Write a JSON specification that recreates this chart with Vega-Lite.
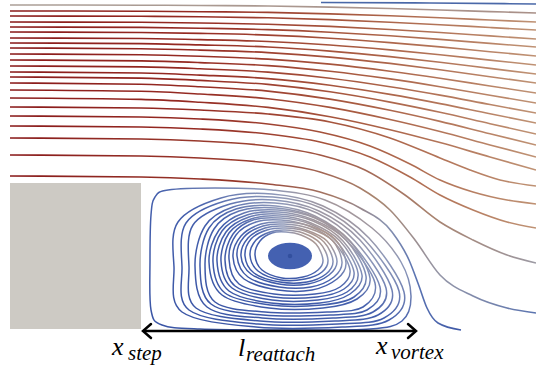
{
"$schema":"https://vega.github.io/schema/vega-lite/v6.json",
"width":536,"height":371,"padding":0,"autosize":"none",
"config":{"view":{"stroke":null}},
"datasets":{
"lines":[
{"g":"t","s":"u1","i":0,"x":10,"y":5},{"g":"t","s":"u1","i":1,"x":141,"y":5.2},{"g":"t","s":"u1","i":2,"x":200,"y":5.5},{"g":"t","s":"u1","i":3,"x":268,"y":6},{"g":"t","s":"u1","i":4,"x":330,"y":7.1},{"g":"t","s":"u1","i":5,"x":390,"y":8.5},{"g":"t","s":"u1","i":6,"x":440,"y":10},{"g":"t","s":"u1","i":7,"x":490,"y":11.6},{"g":"t","s":"u1","i":8,"x":536,"y":13},
{"g":"r","s":"u2","i":0,"x":10,"y":11},{"g":"r","s":"u2","i":1,"x":141,"y":11.2},{"g":"r","s":"u2","i":2,"x":200,"y":11.7},{"g":"r","s":"u2","i":3,"x":268,"y":12.4},{"g":"r","s":"u2","i":4,"x":330,"y":13.9},{"g":"r","s":"u2","i":5,"x":390,"y":15.8},{"g":"r","s":"u2","i":6,"x":440,"y":17.8},{"g":"r","s":"u2","i":7,"x":490,"y":20},{"g":"r","s":"u2","i":8,"x":536,"y":22},
{"g":"r","s":"u3","i":0,"x":10,"y":16},{"g":"r","s":"u3","i":1,"x":141,"y":16.3},{"g":"r","s":"u3","i":2,"x":200,"y":16.8},{"g":"r","s":"u3","i":3,"x":268,"y":17.8},{"g":"r","s":"u3","i":4,"x":330,"y":19.6},{"g":"r","s":"u3","i":5,"x":390,"y":22.2},{"g":"r","s":"u3","i":6,"x":440,"y":24.7},{"g":"r","s":"u3","i":7,"x":490,"y":27.5},{"g":"r","s":"u3","i":8,"x":536,"y":30},
{"g":"r","s":"u4","i":0,"x":10,"y":22},{"g":"r","s":"u4","i":1,"x":141,"y":22.3},{"g":"r","s":"u4","i":2,"x":200,"y":23},{"g":"r","s":"u4","i":3,"x":268,"y":24.2},{"g":"r","s":"u4","i":4,"x":330,"y":26.4},{"g":"r","s":"u4","i":5,"x":390,"y":29.5},{"g":"r","s":"u4","i":6,"x":440,"y":32.5},{"g":"r","s":"u4","i":7,"x":490,"y":35.9},{"g":"r","s":"u4","i":8,"x":536,"y":39},
{"g":"r","s":"u5","i":0,"x":10,"y":27},{"g":"r","s":"u5","i":1,"x":141,"y":27.4},{"g":"r","s":"u5","i":2,"x":200,"y":28.2},{"g":"r","s":"u5","i":3,"x":268,"y":29.6},{"g":"r","s":"u5","i":4,"x":330,"y":32.2},{"g":"r","s":"u5","i":5,"x":390,"y":35.8},{"g":"r","s":"u5","i":6,"x":440,"y":39.4},{"g":"r","s":"u5","i":7,"x":490,"y":43.4},{"g":"r","s":"u5","i":8,"x":536,"y":47},
{"g":"r","s":"u6","i":0,"x":10,"y":32},{"g":"r","s":"u6","i":1,"x":141,"y":32.5},{"g":"r","s":"u6","i":2,"x":200,"y":33.4},{"g":"r","s":"u6","i":3,"x":268,"y":35.1},{"g":"r","s":"u6","i":4,"x":330,"y":38.2},{"g":"r","s":"u6","i":5,"x":390,"y":42.6},{"g":"r","s":"u6","i":6,"x":440,"y":46.9},{"g":"r","s":"u6","i":7,"x":490,"y":51.7},{"g":"r","s":"u6","i":8,"x":536,"y":56},
{"g":"r","s":"u7","i":0,"x":10,"y":38},{"g":"r","s":"u7","i":1,"x":141,"y":38.5},{"g":"r","s":"u7","i":2,"x":200,"y":39.6},{"g":"r","s":"u7","i":3,"x":268,"y":41.5},{"g":"r","s":"u7","i":4,"x":330,"y":45},{"g":"r","s":"u7","i":5,"x":390,"y":49.9},{"g":"r","s":"u7","i":6,"x":440,"y":54.7},{"g":"r","s":"u7","i":7,"x":490,"y":60.1},{"g":"r","s":"u7","i":8,"x":536,"y":65},
{"g":"r","s":"u8","i":0,"x":10,"y":43},{"g":"r","s":"u8","i":1,"x":141,"y":43.6},{"g":"r","s":"u8","i":2,"x":200,"y":44.9},{"g":"r","s":"u8","i":3,"x":268,"y":47},{"g":"r","s":"u8","i":4,"x":330,"y":51.1},{"g":"r","s":"u8","i":5,"x":390,"y":56.6},{"g":"r","s":"u8","i":6,"x":440,"y":62.2},{"g":"r","s":"u8","i":7,"x":490,"y":68.4},{"g":"r","s":"u8","i":8,"x":536,"y":74},
{"g":"r","s":"u9","i":0,"x":10,"y":48},{"g":"r","s":"u9","i":1,"x":141,"y":48.7},{"g":"r","s":"u9","i":2,"x":200,"y":50.1},{"g":"r","s":"u9","i":3,"x":268,"y":52.6},{"g":"r","s":"u9","i":4,"x":330,"y":57.1},{"g":"r","s":"u9","i":5,"x":390,"y":63.4},{"g":"r","s":"u9","i":6,"x":440,"y":69.7},{"g":"r","s":"u9","i":7,"x":490,"y":76.7},{"g":"r","s":"u9","i":8,"x":536,"y":83},
{"g":"r","s":"u10","i":0,"x":10,"y":54},{"g":"r","s":"u10","i":1,"x":141,"y":54.8},{"g":"r","s":"u10","i":2,"x":200,"y":56.3},{"g":"r","s":"u10","i":3,"x":268,"y":59.1},{"g":"r","s":"u10","i":4,"x":330,"y":64.1},{"g":"r","s":"u10","i":5,"x":390,"y":71.2},{"g":"r","s":"u10","i":6,"x":440,"y":78.2},{"g":"r","s":"u10","i":7,"x":490,"y":86},{"g":"r","s":"u10","i":8,"x":536,"y":93},
{"g":"r","s":"u11","i":0,"x":10,"y":60},{"g":"r","s":"u11","i":1,"x":141,"y":60.9},{"g":"r","s":"u11","i":2,"x":200,"y":62.6},{"g":"r","s":"u11","i":3,"x":268,"y":65.6},{"g":"r","s":"u11","i":4,"x":330,"y":71.2},{"g":"r","s":"u11","i":5,"x":390,"y":78.9},{"g":"r","s":"u11","i":6,"x":440,"y":86.7},{"g":"r","s":"u11","i":7,"x":490,"y":95.3},{"g":"r","s":"u11","i":8,"x":536,"y":103},
{"g":"r","s":"u12","i":0,"x":10,"y":66},{"g":"r","s":"u12","i":1,"x":141,"y":66.9},{"g":"r","s":"u12","i":2,"x":200,"y":68.8},{"g":"r","s":"u12","i":3,"x":268,"y":72.1},{"g":"r","s":"u12","i":4,"x":330,"y":78.2},{"g":"r","s":"u12","i":5,"x":390,"y":86.7},{"g":"r","s":"u12","i":6,"x":440,"y":95.1},{"g":"r","s":"u12","i":7,"x":490,"y":104.5},{"g":"r","s":"u12","i":8,"x":536,"y":113},
{"g":"r","s":"u13","i":0,"x":10,"y":72},{"g":"r","s":"u13","i":1,"x":141,"y":73},{"g":"r","s":"u13","i":2,"x":200,"y":75.1},{"g":"r","s":"u13","i":3,"x":268,"y":78.6},{"g":"r","s":"u13","i":4,"x":330,"y":85.3},{"g":"r","s":"u13","i":5,"x":390,"y":94.4},{"g":"r","s":"u13","i":6,"x":440,"y":103.6},{"g":"r","s":"u13","i":7,"x":490,"y":113.8},{"g":"r","s":"u13","i":8,"x":536,"y":123},
{"g":"r","s":"u14","i":0,"x":10,"y":77},{"g":"r","s":"u14","i":1,"x":141,"y":78.1},{"g":"r","s":"u14","i":2,"x":200,"y":80.4},{"g":"r","s":"u14","i":3,"x":268,"y":84.4},{"g":"r","s":"u14","i":4,"x":330,"y":91.8},{"g":"r","s":"u14","i":5,"x":390,"y":102.1},{"g":"r","s":"u14","i":6,"x":440,"y":112.3},{"g":"r","s":"u14","i":7,"x":490,"y":123.7},{"g":"r","s":"u14","i":8,"x":536,"y":134},
{"g":"r","s":"u15","i":0,"x":10,"y":83},{"g":"r","s":"u15","i":1,"x":141,"y":84.2},{"g":"r","s":"u15","i":2,"x":200,"y":86.7},{"g":"r","s":"u15","i":3,"x":268,"y":91.1},{"g":"r","s":"u15","i":4,"x":330,"y":99.1},{"g":"r","s":"u15","i":5,"x":390,"y":110.3},{"g":"r","s":"u15","i":6,"x":440,"y":121.4},{"g":"r","s":"u15","i":7,"x":490,"y":133.8},{"g":"r","s":"u15","i":8,"x":536,"y":145},
{"g":"r","s":"u16","i":0,"x":10,"y":90},{"g":"r","s":"u16","i":1,"x":141,"y":91.3},{"g":"r","s":"u16","i":2,"x":200,"y":94},{"g":"r","s":"u16","i":3,"x":268,"y":98.7},{"g":"r","s":"u16","i":4,"x":330,"y":107.4},{"g":"r","s":"u16","i":5,"x":390,"y":119.5},{"g":"r","s":"u16","i":6,"x":440,"y":131.5},{"g":"r","s":"u16","i":7,"x":490,"y":144.9},{"g":"r","s":"u16","i":8,"x":536,"y":157},
{"g":"r","s":"u17","i":0,"x":10,"y":98},{"g":"r","s":"u17","i":1,"x":141,"y":99.4},{"g":"r","s":"u17","i":2,"x":200,"y":102.3},{"g":"r","s":"u17","i":3,"x":268,"y":107.4},{"g":"r","s":"u17","i":4,"x":330,"y":116.7},{"g":"r","s":"u17","i":5,"x":390,"y":129.7},{"g":"r","s":"u17","i":6,"x":440,"y":142.6},{"g":"r","s":"u17","i":7,"x":490,"y":157},{"g":"r","s":"u17","i":8,"x":536,"y":170},
{"g":"r","s":"l107","i":0,"x":10,"y":107},{"g":"r","s":"l107","i":1,"x":141,"y":108},{"g":"r","s":"l107","i":2,"x":200,"y":110},{"g":"r","s":"l107","i":3,"x":268,"y":114},{"g":"r","s":"l107","i":4,"x":330,"y":122},{"g":"r","s":"l107","i":5,"x":390,"y":138},{"g":"r","s":"l107","i":6,"x":440,"y":158},{"g":"r","s":"l107","i":7,"x":470,"y":170},{"g":"r","s":"l107","i":8,"x":500,"y":180},{"g":"r","s":"l107","i":9,"x":536,"y":186},
{"g":"r","s":"l116","i":0,"x":10,"y":116},{"g":"r","s":"l116","i":1,"x":141,"y":117},{"g":"r","s":"l116","i":2,"x":200,"y":119},{"g":"r","s":"l116","i":3,"x":268,"y":124},{"g":"r","s":"l116","i":4,"x":320,"y":132},{"g":"r","s":"l116","i":5,"x":370,"y":146},{"g":"r","s":"l116","i":6,"x":410,"y":164},{"g":"r","s":"l116","i":7,"x":440,"y":180},{"g":"r","s":"l116","i":8,"x":473,"y":192},{"g":"r","s":"l116","i":9,"x":507,"y":200},{"g":"r","s":"l116","i":10,"x":536,"y":204},
{"g":"r","s":"l126","i":0,"x":10,"y":126},{"g":"r","s":"l126","i":1,"x":141,"y":127},{"g":"r","s":"l126","i":2,"x":200,"y":129},{"g":"r","s":"l126","i":3,"x":268,"y":134},{"g":"r","s":"l126","i":4,"x":320,"y":142},{"g":"r","s":"l126","i":5,"x":370,"y":157},{"g":"r","s":"l126","i":6,"x":410,"y":177},{"g":"r","s":"l126","i":7,"x":440,"y":195},{"g":"r","s":"l126","i":8,"x":473,"y":210},{"g":"r","s":"l126","i":9,"x":507,"y":222},{"g":"r","s":"l126","i":10,"x":536,"y":228},
{"g":"g","s":"l138","i":0,"x":10,"y":138},{"g":"g","s":"l138","i":1,"x":141,"y":139},{"g":"g","s":"l138","i":2,"x":200,"y":141},{"g":"g","s":"l138","i":3,"x":268,"y":146},{"g":"g","s":"l138","i":4,"x":320,"y":155},{"g":"g","s":"l138","i":5,"x":365,"y":170},{"g":"g","s":"l138","i":6,"x":405,"y":195},{"g":"g","s":"l138","i":7,"x":440,"y":222},{"g":"g","s":"l138","i":8,"x":473,"y":240},{"g":"g","s":"l138","i":9,"x":507,"y":255},{"g":"g","s":"l138","i":10,"x":536,"y":263},
{"g":"g2","s":"l155","i":0,"x":10,"y":155},{"g":"g2","s":"l155","i":1,"x":141,"y":156},{"g":"g2","s":"l155","i":2,"x":200,"y":158},{"g":"g2","s":"l155","i":3,"x":268,"y":163},{"g":"g2","s":"l155","i":4,"x":320,"y":172},{"g":"g2","s":"l155","i":5,"x":360,"y":188},{"g":"g2","s":"l155","i":6,"x":390,"y":210},{"g":"g2","s":"l155","i":7,"x":415,"y":240},{"g":"g2","s":"l155","i":8,"x":440,"y":275},{"g":"g2","s":"l155","i":9,"x":473,"y":296},{"g":"g2","s":"l155","i":10,"x":507,"y":308},{"g":"g2","s":"l155","i":11,"x":536,"y":313},
{"g":"b","s":"l176","i":0,"x":10,"y":176},{"g":"b","s":"l176","i":1,"x":141,"y":177},{"g":"b","s":"l176","i":2,"x":200,"y":179},{"g":"b","s":"l176","i":3,"x":268,"y":184},{"g":"b","s":"l176","i":4,"x":320,"y":192},{"g":"b","s":"l176","i":5,"x":360,"y":208},{"g":"b","s":"l176","i":6,"x":392,"y":232},{"g":"b","s":"l176","i":7,"x":409,"y":260},{"g":"b","s":"l176","i":8,"x":419,"y":286},{"g":"b","s":"l176","i":9,"x":427,"y":308},{"g":"b","s":"l176","i":10,"x":438,"y":323},{"g":"b","s":"l176","i":11,"x":461,"y":330},
{"g":"tb","s":"tb","i":0,"x":321,"y":2.5},{"g":"tb","s":"tb","i":1,"x":430,"y":3},{"g":"tb","s":"tb","i":2,"x":536,"y":4}
],
"loops":[
{"s":"L0","i":0,"x":150,"y":260},{"s":"L0","i":1,"x":151,"y":215},{"s":"L0","i":2,"x":155,"y":197},{"s":"L0","i":3,"x":168,"y":190},{"s":"L0","i":4,"x":215,"y":188},{"s":"L0","i":5,"x":272,"y":190},{"s":"L0","i":6,"x":325,"y":200},{"s":"L0","i":7,"x":372,"y":228},{"s":"L0","i":8,"x":401,"y":262},{"s":"L0","i":9,"x":411,"y":296},{"s":"L0","i":10,"x":402,"y":321},{"s":"L0","i":11,"x":370,"y":329},{"s":"L0","i":12,"x":290,"y":330},{"s":"L0","i":13,"x":200,"y":329},{"s":"L0","i":14,"x":162,"y":325},{"s":"L0","i":15,"x":151,"y":310},
{"s":"L1","i":0,"x":174,"y":267},{"s":"L1","i":1,"x":178,"y":222},{"s":"L1","i":2,"x":221,"y":198},{"s":"L1","i":3,"x":272,"y":194},{"s":"L1","i":4,"x":323,"y":206},{"s":"L1","i":5,"x":369,"y":238},{"s":"L1","i":6,"x":404,"y":292},{"s":"L1","i":7,"x":389,"y":320},{"s":"L1","i":8,"x":342,"y":327},{"s":"L1","i":9,"x":256,"y":327},{"s":"L1","i":10,"x":182,"y":312},
{"s":"L2","i":0,"x":182,"y":267},{"s":"L2","i":1,"x":186,"y":223},{"s":"L2","i":2,"x":225,"y":201},{"s":"L2","i":3,"x":273,"y":197},{"s":"L2","i":4,"x":321,"y":208},{"s":"L2","i":5,"x":364,"y":239},{"s":"L2","i":6,"x":399,"y":291},{"s":"L2","i":7,"x":384,"y":318},{"s":"L2","i":8,"x":338,"y":324},{"s":"L2","i":9,"x":258,"y":324},{"s":"L2","i":10,"x":189,"y":310},
{"s":"L3","i":0,"x":189,"y":267},{"s":"L3","i":1,"x":193,"y":225},{"s":"L3","i":2,"x":230,"y":204},{"s":"L3","i":3,"x":274,"y":200},{"s":"L3","i":4,"x":319,"y":211},{"s":"L3","i":5,"x":360,"y":240},{"s":"L3","i":6,"x":392,"y":290},{"s":"L3","i":7,"x":378,"y":315},{"s":"L3","i":8,"x":335,"y":321},{"s":"L3","i":9,"x":260,"y":321},{"s":"L3","i":10,"x":196,"y":308},
{"s":"L4","i":0,"x":195,"y":266},{"s":"L4","i":1,"x":205,"y":226},{"s":"L4","i":2,"x":233,"y":207},{"s":"L4","i":3,"x":275,"y":203},{"s":"L4","i":4,"x":317,"y":213},{"s":"L4","i":5,"x":355,"y":241},{"s":"L4","i":6,"x":386,"y":288},{"s":"L4","i":7,"x":373,"y":312},{"s":"L4","i":8,"x":333,"y":318},{"s":"L4","i":9,"x":262,"y":318},{"s":"L4","i":10,"x":207,"y":307},
{"s":"L5","i":0,"x":200,"y":266},{"s":"L5","i":1,"x":209,"y":228},{"s":"L5","i":2,"x":236,"y":209},{"s":"L5","i":3,"x":276,"y":206},{"s":"L5","i":4,"x":315,"y":216},{"s":"L5","i":5,"x":351,"y":242},{"s":"L5","i":6,"x":380,"y":287},{"s":"L5","i":7,"x":367,"y":310},{"s":"L5","i":8,"x":330,"y":315},{"s":"L5","i":9,"x":263,"y":315},{"s":"L5","i":10,"x":211,"y":304},
{"s":"L6","i":0,"x":205,"y":265},{"s":"L6","i":1,"x":214,"y":229},{"s":"L6","i":2,"x":239,"y":211},{"s":"L6","i":3,"x":276,"y":208},{"s":"L6","i":4,"x":314,"y":217},{"s":"L6","i":5,"x":348,"y":242},{"s":"L6","i":6,"x":375,"y":283},{"s":"L6","i":7,"x":363,"y":307},{"s":"L6","i":8,"x":327,"y":312},{"s":"L6","i":9,"x":265,"y":312},{"s":"L6","i":10,"x":215,"y":302},
{"s":"L7","i":0,"x":209,"y":262},{"s":"L7","i":1,"x":219,"y":230},{"s":"L7","i":2,"x":244,"y":213},{"s":"L7","i":3,"x":278,"y":210},{"s":"L7","i":4,"x":315,"y":218},{"s":"L7","i":5,"x":349,"y":240},{"s":"L7","i":6,"x":370,"y":278},{"s":"L7","i":7,"x":357,"y":299},{"s":"L7","i":8,"x":323,"y":308},{"s":"L7","i":9,"x":269,"y":308},{"s":"L7","i":10,"x":222,"y":295},
{"s":"L8","i":0,"x":213,"y":262},{"s":"L8","i":1,"x":222,"y":231},{"s":"L8","i":2,"x":247,"y":215},{"s":"L8","i":3,"x":279,"y":212},{"s":"L8","i":4,"x":314,"y":220},{"s":"L8","i":5,"x":346,"y":240},{"s":"L8","i":6,"x":366,"y":276},{"s":"L8","i":7,"x":354,"y":297},{"s":"L8","i":8,"x":322,"y":305},{"s":"L8","i":9,"x":270,"y":305},{"s":"L8","i":10,"x":225,"y":293},
{"s":"L9","i":0,"x":217,"y":261},{"s":"L9","i":1,"x":226,"y":232},{"s":"L9","i":2,"x":249,"y":217},{"s":"L9","i":3,"x":279,"y":214},{"s":"L9","i":4,"x":313,"y":221},{"s":"L9","i":5,"x":343,"y":241},{"s":"L9","i":6,"x":362,"y":275},{"s":"L9","i":7,"x":350,"y":294},{"s":"L9","i":8,"x":320,"y":303},{"s":"L9","i":9,"x":271,"y":303},{"s":"L9","i":10,"x":229,"y":291},
{"s":"L10","i":0,"x":221,"y":261},{"s":"L10","i":1,"x":229,"y":233},{"s":"L10","i":2,"x":251,"y":219},{"s":"L10","i":3,"x":280,"y":216},{"s":"L10","i":4,"x":311,"y":223},{"s":"L10","i":5,"x":340,"y":241},{"s":"L10","i":6,"x":358,"y":273},{"s":"L10","i":7,"x":347,"y":292},{"s":"L10","i":8,"x":318,"y":300},{"s":"L10","i":9,"x":272,"y":300},{"s":"L10","i":10,"x":232,"y":288},
{"s":"L11","i":0,"x":225,"y":260},{"s":"L11","i":1,"x":233,"y":234},{"s":"L11","i":2,"x":253,"y":220},{"s":"L11","i":3,"x":281,"y":218},{"s":"L11","i":4,"x":310,"y":224},{"s":"L11","i":5,"x":337,"y":242},{"s":"L11","i":6,"x":354,"y":272},{"s":"L11","i":7,"x":344,"y":289},{"s":"L11","i":8,"x":317,"y":297},{"s":"L11","i":9,"x":273,"y":297},{"s":"L11","i":10,"x":235,"y":286},
{"s":"L12","i":0,"x":229,"y":259},{"s":"L12","i":1,"x":236,"y":235},{"s":"L12","i":2,"x":256,"y":222},{"s":"L12","i":3,"x":281,"y":220},{"s":"L12","i":4,"x":309,"y":226},{"s":"L12","i":5,"x":334,"y":242},{"s":"L12","i":6,"x":350,"y":270},{"s":"L12","i":7,"x":340,"y":287},{"s":"L12","i":8,"x":315,"y":294},{"s":"L12","i":9,"x":274,"y":294},{"s":"L12","i":10,"x":239,"y":284},
{"s":"L13","i":0,"x":233,"y":257},{"s":"L13","i":1,"x":241,"y":236},{"s":"L13","i":2,"x":261,"y":224},{"s":"L13","i":3,"x":284,"y":222},{"s":"L13","i":4,"x":310,"y":226},{"s":"L13","i":5,"x":335,"y":239},{"s":"L13","i":6,"x":346,"y":263},{"s":"L13","i":7,"x":337,"y":279},{"s":"L13","i":8,"x":312,"y":290},{"s":"L13","i":9,"x":278,"y":290},{"s":"L13","i":10,"x":244,"y":279},
{"s":"L14","i":0,"x":237,"y":256},{"s":"L14","i":1,"x":244,"y":237},{"s":"L14","i":2,"x":263,"y":226},{"s":"L14","i":3,"x":284,"y":224},{"s":"L14","i":4,"x":308,"y":228},{"s":"L14","i":5,"x":332,"y":240},{"s":"L14","i":6,"x":342,"y":262},{"s":"L14","i":7,"x":334,"y":277},{"s":"L14","i":8,"x":311,"y":287},{"s":"L14","i":9,"x":279,"y":287},{"s":"L14","i":10,"x":248,"y":277},
{"s":"L15","i":0,"x":241,"y":256},{"s":"L15","i":1,"x":248,"y":238},{"s":"L15","i":2,"x":265,"y":228},{"s":"L15","i":3,"x":284,"y":226},{"s":"L15","i":4,"x":306,"y":230},{"s":"L15","i":5,"x":327,"y":241},{"s":"L15","i":6,"x":337,"y":261},{"s":"L15","i":7,"x":329,"y":275},{"s":"L15","i":8,"x":308,"y":284},{"s":"L15","i":9,"x":279,"y":284},{"s":"L15","i":10,"x":251,"y":274},
{"s":"L16","i":0,"x":245,"y":256},{"s":"L16","i":1,"x":251,"y":239},{"s":"L16","i":2,"x":267,"y":230},{"s":"L16","i":3,"x":285,"y":228},{"s":"L16","i":4,"x":305,"y":231},{"s":"L16","i":5,"x":324,"y":242},{"s":"L16","i":6,"x":333,"y":261},{"s":"L16","i":7,"x":326,"y":274},{"s":"L16","i":8,"x":307,"y":282},{"s":"L16","i":9,"x":280,"y":282},{"s":"L16","i":10,"x":254,"y":273},
{"s":"L17","i":0,"x":250,"y":255},{"s":"L17","i":1,"x":256,"y":240},{"s":"L17","i":2,"x":270,"y":232},{"s":"L17","i":3,"x":285,"y":230},{"s":"L17","i":4,"x":303,"y":233},{"s":"L17","i":5,"x":320,"y":243},{"s":"L17","i":6,"x":328,"y":260},{"s":"L17","i":7,"x":322,"y":272},{"s":"L17","i":8,"x":305,"y":279},{"s":"L17","i":9,"x":281,"y":280},{"s":"L17","i":10,"x":258,"y":271},
{"s":"L18","i":0,"x":255,"y":255},{"s":"L18","i":1,"x":260,"y":241},{"s":"L18","i":2,"x":272,"y":233},{"s":"L18","i":3,"x":286,"y":232},{"s":"L18","i":4,"x":301,"y":235},{"s":"L18","i":5,"x":316,"y":244},{"s":"L18","i":6,"x":323,"y":260},{"s":"L18","i":7,"x":318,"y":270},{"s":"L18","i":8,"x":303,"y":277},{"s":"L18","i":9,"x":282,"y":278},{"s":"L18","i":10,"x":262,"y":270}
],
"chev":[
{"s":"a","i":0,"x":151,"y":324},{"s":"a","i":1,"x":143,"y":331},{"s":"a","i":2,"x":151,"y":338},
{"s":"b","i":0,"x":408,"y":324},{"s":"b","i":1,"x":416,"y":331},{"s":"b","i":2,"x":408,"y":338}
]
},
"encoding":{
"x":{"field":"x","type":"quantitative","scale":{"domain":[0,536],"nice":false,"zero":false},"axis":null},
"y":{"field":"y","type":"quantitative","scale":{"domain":[0,371],"nice":false,"zero":false,"reverse":true},"axis":null}
},
"layer":[
{"data":{"values":[{"x":10,"x2":141,"y":183,"y2":329}]},"mark":{"type":"rect","color":"#cdcac4"},"encoding":{"x2":{"field":"x2"},"y2":{"field":"y2"}}},
{"data":{"name":"lines"},"transform":[{"filter":"datum.g==='t'"}],"mark":{"type":"line","interpolate":"monotone","strokeWidth":1.6,"color":{"gradient":"linear","x1":0,"y1":0,"x2":1,"y2":0,"stops":[{"offset":0,"color":"#ab9f97"},{"offset":1,"color":"#a99088"}]}},"encoding":{"detail":{"field":"s"},"order":{"field":"i","type":"quantitative"}}},
{"data":{"name":"lines"},"transform":[{"filter":"datum.g==='r'"}],"mark":{"type":"line","interpolate":"monotone","strokeWidth":1.6,"color":{"gradient":"linear","x1":0,"y1":0,"x2":1,"y2":0,"stops":[{"offset":0,"color":"#8a1b1b"},{"offset":0.35,"color":"#952a22"},{"offset":0.65,"color":"#a85a40"},{"offset":1,"color":"#bf9274"}]}},"encoding":{"detail":{"field":"s"},"order":{"field":"i","type":"quantitative"}}},
{"data":{"name":"lines"},"transform":[{"filter":"datum.g==='g'"}],"mark":{"type":"line","interpolate":"monotone","strokeWidth":1.6,"color":{"gradient":"linear","x1":0,"y1":0,"x2":1,"y2":0,"stops":[{"offset":0,"color":"#8a1b1b"},{"offset":0.5,"color":"#9e4432"},{"offset":0.8,"color":"#a8826e"},{"offset":1,"color":"#9c9aa4"}]}},"encoding":{"detail":{"field":"s"},"order":{"field":"i","type":"quantitative"}}},
{"data":{"name":"lines"},"transform":[{"filter":"datum.g==='g2'"}],"mark":{"type":"line","interpolate":"monotone","strokeWidth":1.6,"color":{"gradient":"linear","x1":0,"y1":0,"x2":1,"y2":0,"stops":[{"offset":0,"color":"#8a1b1b"},{"offset":0.45,"color":"#9a3a2c"},{"offset":0.7,"color":"#a88670"},{"offset":0.82,"color":"#9496a8"},{"offset":1,"color":"#5b74b0"}]}},"encoding":{"detail":{"field":"s"},"order":{"field":"i","type":"quantitative"}}},
{"data":{"name":"lines"},"transform":[{"filter":"datum.g==='b'"}],"mark":{"type":"line","interpolate":"monotone","strokeWidth":1.6,"color":{"gradient":"linear","x1":0,"y1":0,"x2":1,"y2":0,"stops":[{"offset":0,"color":"#8a1b1b"},{"offset":0.5,"color":"#963628"},{"offset":0.72,"color":"#a47a68"},{"offset":0.83,"color":"#8b93ad"},{"offset":0.9,"color":"#5a73b2"},{"offset":1,"color":"#3d57a6"}]}},"encoding":{"detail":{"field":"s"},"order":{"field":"i","type":"quantitative"}}},
{"data":{"name":"lines"},"transform":[{"filter":"datum.g==='tb'"}],"mark":{"type":"line","interpolate":"monotone","strokeWidth":1.6,"color":"#4a68a8"},"encoding":{"detail":{"field":"s"},"order":{"field":"i","type":"quantitative"}}},
{"data":{"name":"loops"},"mark":{"type":"line","interpolate":"cardinal-closed","strokeWidth":1.5,"color":{"gradient":"linear","x1":0,"y1":1,"x2":1,"y2":0,"stops":[{"offset":0,"color":"#3a55a5"},{"offset":0.5,"color":"#4560ad"},{"offset":0.72,"color":"#8e98b8"},{"offset":0.88,"color":"#b9977e"},{"offset":1,"color":"#c08466"}]}},"encoding":{"detail":{"field":"s"},"order":{"field":"i","type":"quantitative"}}},
{"data":{"values":[{"x":290,"y":256}]},"mark":{"type":"point","filled":true,"opacity":1,"strokeWidth":0,"size":1936,"color":"#4461b1","shape":"M -1 0 C -1 -0.33 -0.552 -0.6 0 -0.6 C 0.552 -0.6 1 -0.33 1 0 C 1 0.33 0.552 0.6 0 0.6 C -0.552 0.6 -1 0.33 -1 0 Z"}},
{"data":{"values":[{"x":290,"y":256}]},"mark":{"type":"point","filled":true,"opacity":1,"strokeWidth":0,"size":20,"color":"#33509e","shape":"circle"}},
{"data":{"values":[{"x":143,"x2":416,"y":331}]},"mark":{"type":"rule","color":"#000000","strokeWidth":2.5},"encoding":{"x2":{"field":"x2"}}},
{"data":{"name":"chev"},"mark":{"type":"line","color":"#000000","strokeWidth":2.5,"strokeCap":"round","strokeJoin":"miter"},"encoding":{"detail":{"field":"s"},"order":{"field":"i","type":"quantitative"}}},
{"data":{"values":[{"t":"x","x":112,"y":355},{"t":"l","x":238,"y":356},{"t":"x","x":376,"y":354}]},"mark":{"type":"text","font":"Times New Roman, Liberation Serif, serif","fontStyle":"italic","fontSize":26,"align":"left","baseline":"alphabetic","color":"#000000"},"encoding":{"text":{"field":"t"}}},
{"data":{"values":[{"t":"step","x":128,"y":360},{"t":"reattach","x":246,"y":361},{"t":"vortex","x":391,"y":359}]},"mark":{"type":"text","font":"Times New Roman, Liberation Serif, serif","fontStyle":"italic","fontSize":21,"align":"left","baseline":"alphabetic","color":"#000000"},"encoding":{"text":{"field":"t"}}}
]
}
